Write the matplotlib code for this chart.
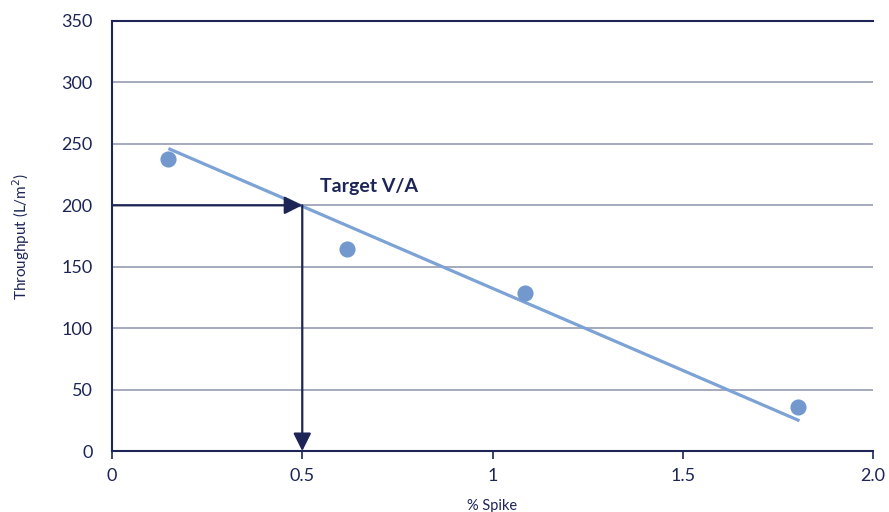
import matplotlib.pyplot as plt

# measured throughput vs spike level
spike = [0.147, 0.618, 1.085, 1.803]
throughput = [237.6, 164.4, 128.6, 35.8]

# trend line end points
trend_x = [0.152, 1.803]
trend_y = [245.7, 25.2]

# target volume / area
target_spike = 0.5
target_tp = 200

xticks = [0, 0.5, 1, 1.5, 2.0]
xtick_labels = ['0', '0.5', '1', '1.5', '2.0']
yticks = [0, 50, 100, 150, 200, 250, 300, 350]

navy = '#1d2557'
grid_col = '#8d92ab'
point_col = '#7298cd'
line_col = '#7ca2d6'

plt.rcParams['font.family'] = ['Lato', 'DejaVu Sans']

fig = plt.figure(figsize=(8.89, 5.12), dpi=100)
ax = fig.add_axes([0.126, 0.119, 0.856, 0.840])

ax.set_xlim(0, 2.0)
ax.set_ylim(0, 350)

for y in yticks[1:-1]:
    ax.axhline(y, color=grid_col, lw=1.1, zorder=1)

ax.plot(trend_x, trend_y, color=line_col, lw=2.3, zorder=3)
ax.scatter(spike, throughput, s=135, color=point_col, zorder=4, linewidths=0)

# arrows to the target point
ax.annotate('', xy=(target_spike, target_tp), xytext=(0, target_tp),
            arrowprops=dict(arrowstyle='-|>', color=navy, lw=1.6,
                            mutation_scale=27, shrinkA=0, shrinkB=0),
            zorder=5)
ax.annotate('', xy=(target_spike, 0), xytext=(target_spike, target_tp),
            arrowprops=dict(arrowstyle='-|>', color=navy, lw=1.6,
                            mutation_scale=27, shrinkA=0, shrinkB=0),
            zorder=5)
ax.text(0.547, 215, 'Target V/A', fontsize=14, fontweight='bold',
        color=navy, va='center', ha='left')

ax.spines['right'].set_visible(False)
for side in ['left', 'bottom', 'top']:
    ax.spines[side].set_color(navy)
    ax.spines[side].set_linewidth(1.5)

ax.set_xticks(xticks)
ax.set_xticklabels(xtick_labels)
ax.set_yticks(yticks)
ax.tick_params(axis='x', direction='out', length=6, width=1.2, color=navy,
               labelsize=13, labelcolor=navy, pad=6)
ax.tick_params(axis='y', length=0, labelsize=13, labelcolor=navy, pad=14)

ax.set_xlabel('% Spike', fontsize=10.5, color=navy, labelpad=11)
ax.set_ylabel('Throughput (L/m$^2$)', fontsize=11, color=navy, labelpad=21)

fig.savefig('out.png', dpi=100)
